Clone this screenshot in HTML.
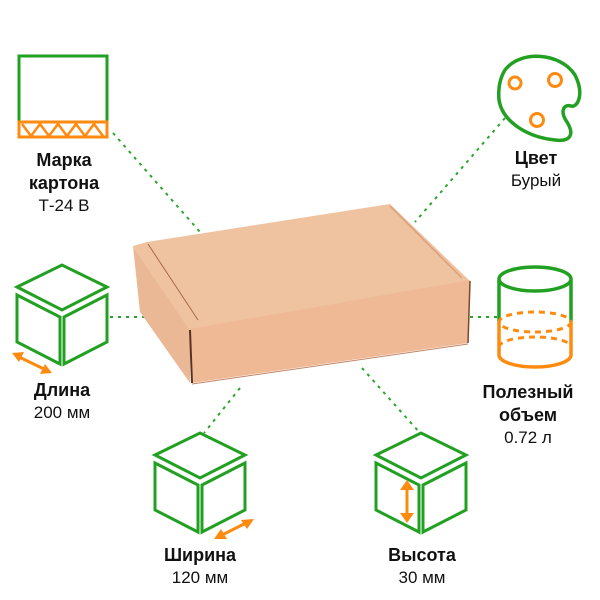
<!DOCTYPE html>
<html><head><meta charset="utf-8"><style>
body{margin:0;background:#fff;width:600px;height:600px;overflow:hidden;position:relative;font-family:"Liberation Sans",Arial,sans-serif}
.t{position:absolute;text-align:center;font-size:17px;line-height:22px;color:#111;width:160px}
.t b{font-weight:bold;font-size:18px}
</style></head><body>
<svg width="600" height="600" style="position:absolute;left:0;top:0">
<g stroke="#2aa52a" stroke-width="2" stroke-dasharray="3,5" fill="none">
<line x1="113" y1="133" x2="200" y2="232"/>
<line x1="505" y1="118" x2="415" y2="222"/>
<line x1="110" y1="317" x2="145" y2="317"/>
<line x1="470" y1="317" x2="498" y2="317"/>
<line x1="240" y1="388" x2="204" y2="433"/>
<line x1="362" y1="368" x2="420" y2="433"/>
</g>
<!-- box -->
<polygon points="133,246 147,242 390,204 470,281 190,330" fill="#efc2a0"/>
<polygon points="133,246 190,330 190,383 140,312" fill="#ebb896"/>
<polygon points="190,329 470,280 468,343 192,383" fill="#f0b996"/>
<line x1="148" y1="244" x2="198" y2="320" stroke="#a86a45" stroke-width="1"/>
<line x1="390" y1="206" x2="462" y2="278" stroke="#d9a07c" stroke-width="1.5"/>
<line x1="190" y1="330" x2="192" y2="383" stroke="#5a3320" stroke-width="2"/>
<line x1="470" y1="281" x2="468" y2="343" stroke="#7a4a2c" stroke-width="1.5"/>
<line x1="192" y1="384" x2="468" y2="344" stroke="#c08564" stroke-width="1"/>
<!-- marka -->
<polyline points="19,122 19,56 107,56 107,122" fill="none" stroke="#22a022" stroke-width="3"/>
<rect x="19" y="122" width="88" height="15" fill="none" stroke="#ff8a10" stroke-width="3"/>
<polyline points="22,124 31,136 40,124 49,136 58,124 67,136 76,124 85,136 94,124 103,136" fill="none" stroke="#ff8a10" stroke-width="2.5"/>
<!-- palette -->
<path d="M505,70 C520,50 560,52 575,75 C585,95 577,108 571,106 C563,104 560,112 567,122 C575,135 570,142 555,140 C525,137 502,120 499,100 C498,88 500,78 505,70Z" fill="none" stroke="#22a022" stroke-width="3.5"/>
<g fill="none" stroke="#ff8a10" stroke-width="3"><circle cx="515" cy="83" r="6"/><circle cx="555" cy="80" r="6.5"/><circle cx="537" cy="120" r="6.5"/></g>
<!-- cylinder -->
<ellipse cx="535" cy="279" rx="36" ry="12" fill="none" stroke="#22a022" stroke-width="3.5"/>
<line x1="499" y1="280" x2="499" y2="322" stroke="#22a022" stroke-width="3.5"/>
<line x1="571" y1="280" x2="571" y2="322" stroke="#22a022" stroke-width="3.5"/>
<path d="M499,322 L499,355 A36,12 0 0 0 571,355 L571,322" fill="none" stroke="#ff8a10" stroke-width="3.5"/>
<g fill="none" stroke="#ff8a10" stroke-width="3" stroke-dasharray="6,5">
<ellipse cx="535" cy="322" rx="36" ry="10"/>
<path d="M499,347 A36,10 0 0 1 571,347"/>
</g>
<!-- cubes -->
<defs><g id="cube" fill="none" stroke="#22a022" stroke-width="3" stroke-linejoin="miter">
<polygon points="0,22 45,0 90,22 45,45"/>
<polygon points="0,30 43,52 43,99 0,77"/>
<polygon points="47,52 90,30 90,77 47,99"/>
</g></defs>
<use href="#cube" x="17" y="265"/>
<use href="#cube" x="155" y="433"/>
<use href="#cube" x="376" y="433"/>
<g stroke="#ff8a10" stroke-width="3" fill="#ff8a10">
<line x1="17" y1="356" x2="46" y2="370"/>
<polygon points="12,353 24,352 19,362" stroke="none"/>
<polygon points="52,373 40,374 45,364" stroke="none"/>
<line x1="220" y1="536" x2="248" y2="522"/>
<polygon points="214,539 221,529 227,539" stroke="none"/>
<polygon points="254,519 247,529 241,520" stroke="none"/>
<line x1="407" y1="487" x2="407" y2="516"/>
<polygon points="400,490 407,480 414,490" stroke="none"/>
<polygon points="400,513 407,523 414,513" stroke="none"/>
</g>
</svg>
<div class="t" style="left:-16px;top:149px"><b>Марка<br>картона</b><br>Т-24 В</div>
<div class="t" style="left:456px;top:147px"><b>Цвет</b><br>Бурый</div>
<div class="t" style="left:-18px;top:379px"><b>Длина</b><br>200 мм</div>
<div class="t" style="left:448px;top:381px"><b>Полезный<br>объем</b><br>0.72 л</div>
<div class="t" style="left:120px;top:544px"><b>Ширина</b><br>120 мм</div>
<div class="t" style="left:342px;top:544px"><b>Высота</b><br>30 мм</div>
</body></html>
